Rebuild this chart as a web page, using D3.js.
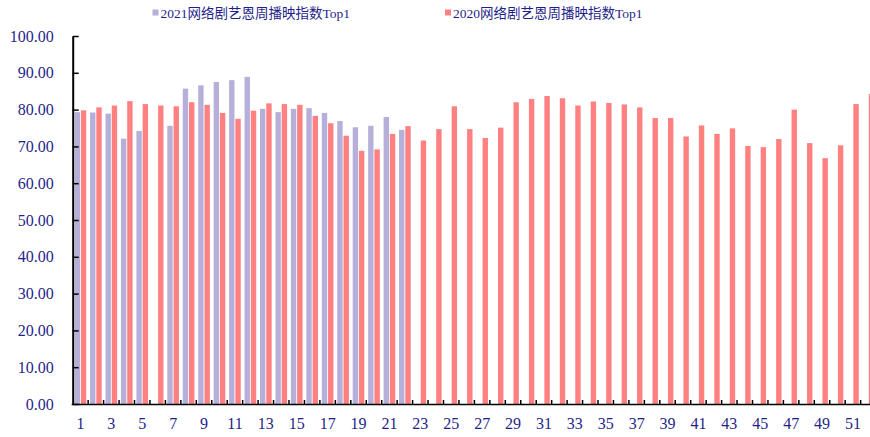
<!DOCTYPE html>
<html>
<head>
<meta charset="utf-8">
<script src="https://cdn.jsdelivr.net/npm/d3@7"></script>
<style>
  body { margin: 0; background: #fff; }
  text { font-family: "Liberation Serif", "Noto Sans CJK SC", serif; }
</style>
</head>
<body>
<svg id="chart" width="870" height="437"></svg>
<script>
const weeks = [1, 2, 3, 4, 5, 6, 7, 8, 9, 10, 11, 12, 13, 14, 15, 16, 17, 18, 19, 20, 21, 22, 23, 24, 25, 26,
  27, 28, 29, 30, 31, 32, 33, 34, 35, 36, 37, 38, 39, 40, 41, 42, 43, 44, 45, 46, 47, 48, 49, 50, 51, 52];

// 2021 only runs to week 22, week 6 is missing
const values2021 = [79.3, 79.2, 78.9, 72.1, 74.2, null, 75.6, 85.7, 86.6, 87.5, 88.0, 88.9, 80.2, 79.3,
  80.2, 80.4, 79.1, 76.9, 75.2, 75.6, 78.0, 74.5];
const values2020 = [79.8, 80.6, 81.1, 82.3, 81.5, 81.1, 80.9, 82.0, 81.3, 79.1, 77.5, 79.7, 81.7, 81.5,
  81.3, 78.3, 76.3, 72.9, 68.8, 69.2, 73.4, 75.5, 71.6, 74.7, 80.9, 74.7, 72.3, 75.1, 82.0, 82.9, 83.7,
  83.1, 81.1, 82.2, 81.8, 81.4, 80.6, 77.7, 77.7, 72.7, 75.7, 73.4, 74.9, 70.1, 69.8, 72.0, 80.0, 70.9,
  66.8, 70.3, 81.5, 84.3];

const yTicks = [0, 10, 20, 30, 40, 50, 60, 70, 80, 90, 100];
const seriesNames = ["2021网络剧艺恩周播映指数Top1", "2020网络剧艺恩周播映指数Top1"];
const seriesColors = ["#b6afd9", "#ff8080"];

const svg = d3.select("#chart");
const plotLeft = 72.7, plotRight = 876.1, plotTop = 36, plotBottom = 404;
const textColor = "#1f1f8a";

const x = d3.scaleBand().domain(weeks).range([plotLeft, plotRight]).padding(0);
const xInner = d3.scaleBand().domain([0, 1]).range([1.9, x.bandwidth() - 1.9]).paddingInner(0.14);
const y = d3.scaleLinear().domain([0, 100]).range([plotBottom, plotTop]);

// bars
const series = [values2021, values2020];
series.forEach((vals, si) => {
  svg.append("g")
    .selectAll("rect")
    .data(vals.map((v, i) => ({ week: weeks[i], v })).filter(d => d.v != null))
    .join("rect")
    .attr("x", d => x(d.week) + xInner(si))
    .attr("width", xInner.bandwidth())
    .attr("y", d => y(d.v))
    .attr("height", d => y(0) - y(d.v))
    .attr("fill", seriesColors[si]);
});

// y axis
const yAxis = svg.append("g")
  .attr("transform", `translate(${plotLeft},0)`)
  .call(d3.axisLeft(y).tickValues(yTicks).tickFormat(d3.format(".2f"))
    .tickSizeInner(-6).tickSizeOuter(0).tickPadding(19));
yAxis.select(".domain").attr("stroke", "#000").attr("stroke-width", 2);
yAxis.selectAll(".tick line").attr("stroke", "#000").attr("stroke-width", 1.5);
yAxis.selectAll(".tick text")
  .attr("fill", textColor)
  .style("font-size", "16px");

// x axis: labels on odd weeks, ticks on category boundaries
const xAxis = svg.append("g")
  .attr("transform", `translate(0,${plotBottom})`)
  .call(d3.axisBottom(x).tickSize(0).tickPadding(14)
    .tickFormat(d => d % 2 === 1 ? d : ""));
xAxis.select(".domain").remove();
xAxis.selectAll(".tick text")
  .attr("fill", textColor)
  .style("font-size", "16px");

svg.append("line")
  .attr("x1", plotLeft - 1).attr("x2", plotRight)
  .attr("y1", plotBottom + 0.5).attr("y2", plotBottom + 0.5)
  .attr("stroke", "#000").attr("stroke-width", 1.5);

svg.append("g")
  .selectAll("line")
  .data(weeks.slice(0, -1))
  .join("line")
  .attr("x1", d => x(d) + x.step()).attr("x2", d => x(d) + x.step())
  .attr("y1", plotBottom - 4).attr("y2", plotBottom)
  .attr("stroke", "#000").attr("stroke-width", 1.5);

// legend
const legendX = [152.5, 445];
seriesNames.forEach((name, i) => {
  const g = svg.append("g").attr("transform", `translate(${legendX[i]},0)`);
  g.append("rect")
    .attr("x", 0).attr("y", 9.5)
    .attr("width", 6).attr("height", 6)
    .attr("fill", seriesColors[i]);
  g.append("text")
    .attr("x", 8).attr("y", 17.5)
    .attr("fill", textColor)
    .style("font-size", "13.5px")
    .text(name);
});
</script>
</body>
</html>
